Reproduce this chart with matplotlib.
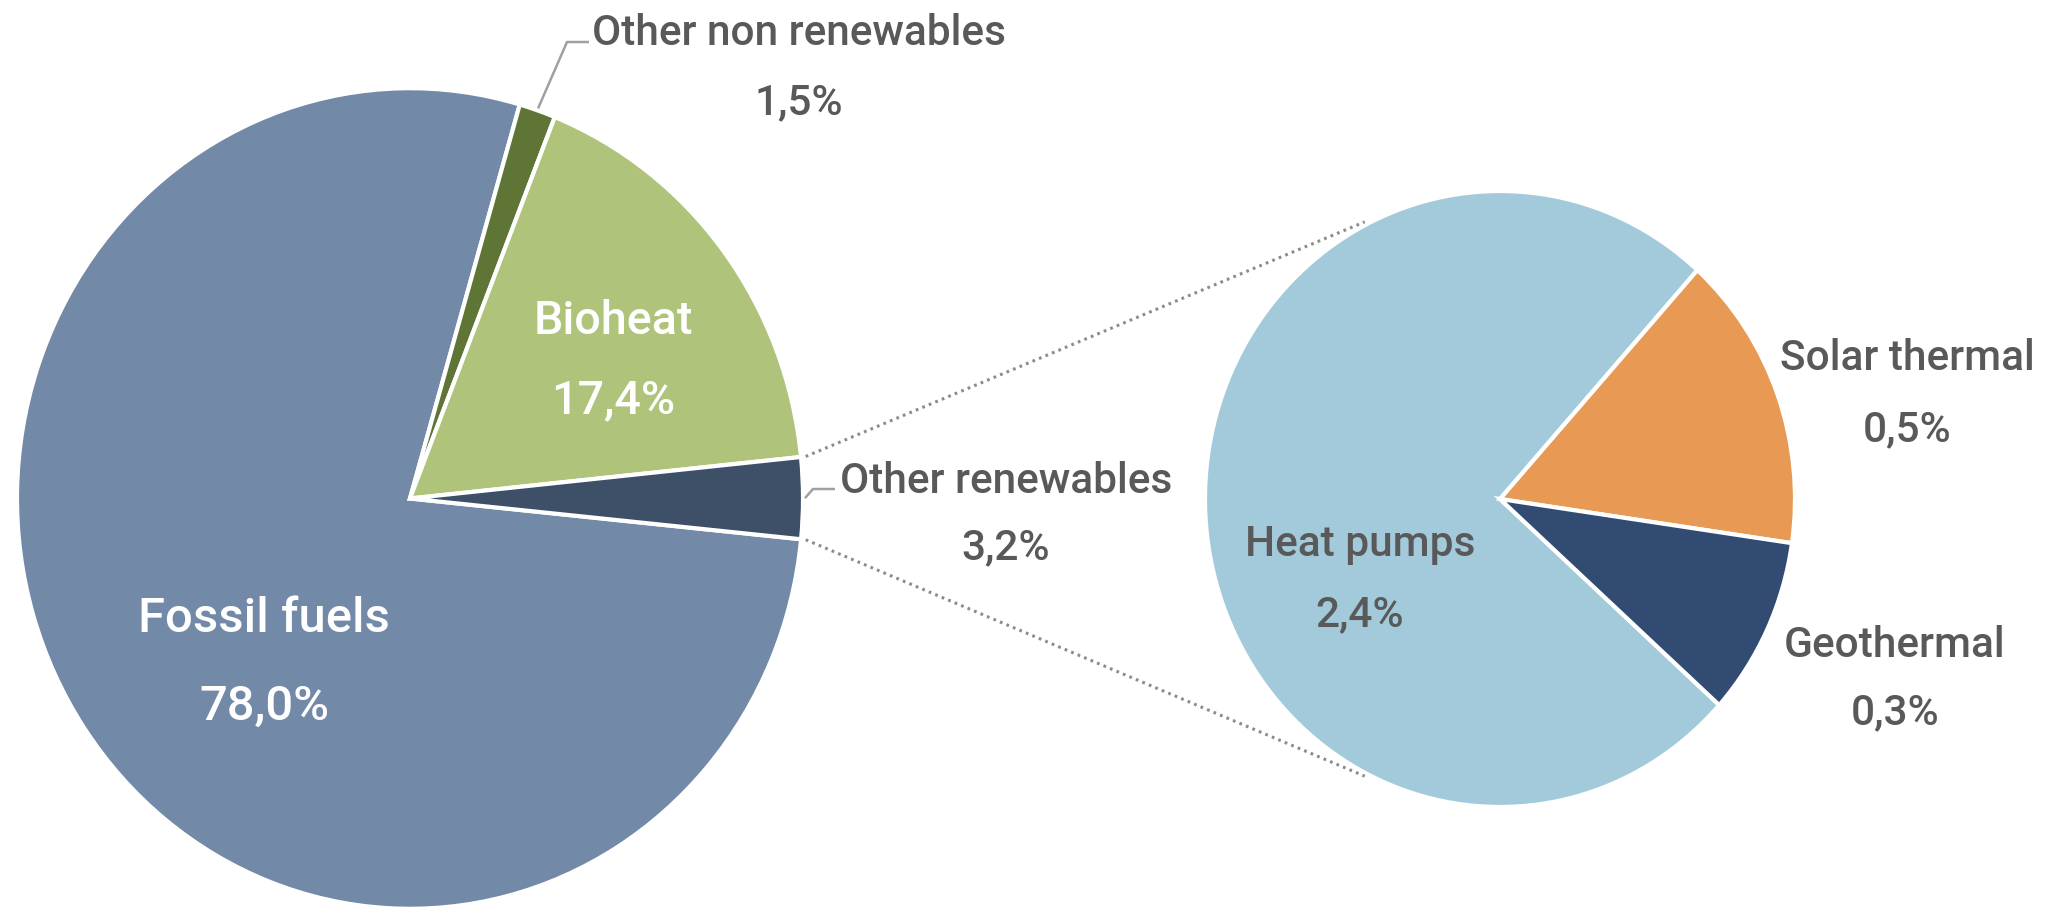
import matplotlib

matplotlib.use('Agg')
import matplotlib.pyplot as plt
import numpy as np
from matplotlib import font_manager

# heat consumption shares, %
main_labels = ['Fossil fuels', 'Other non renewables', 'Bioheat', 'Other renewables']
main_values = [78.0, 1.5, 17.4, 3.2]
main_colors = ['#7389a8', '#5e7535', '#afc47a', '#3e5068']

# breakdown of "Other renewables"
ren_labels = ['Heat pumps', 'Solar thermal', 'Geothermal']
ren_values = [2.4, 0.5, 0.3]
ren_colors = ['#a2cadb', '#e89a55', '#324b72']


def pct(v):
    return ('%.1f%%' % v).replace('.', ',')


W, H = 2059, 912
SY = 1.044  # pies are slightly taller than wide

installed = {f.name for f in font_manager.fontManager.ttflist}
if 'Liberation Sans Narrow' in installed:
    font, scale = 'Liberation Sans Narrow', 1.0
else:
    font, scale = 'Roboto', 0.86
plt.rcParams['font.family'] = [font, 'DejaVu Sans']

fig = plt.figure(figsize=(W / 100, H / 100), dpi=100)
ax = fig.add_axes([0, 0, 1, 1])


def at(x, y):
    # pixel position (y down) -> data coords
    return x, (H - y) / SY


def edge(c, r, ang, k=1.0):
    t = np.radians(ang)
    return c[0] + k * r * np.cos(t), c[1] + k * r * np.sin(t)


left_c, left_r = at(410, 499.5), 393
right_c, right_r = at(1500, 500), 295

wedge_style = dict(edgecolor='white', linewidth=3)
w_main, _ = ax.pie(main_values, colors=main_colors, center=left_c, radius=left_r,
                   startangle=-5.7, counterclock=False, wedgeprops=wedge_style, frame=True)
w_ren, _ = ax.pie(ren_values, colors=ren_colors, center=right_c, radius=right_r,
                  startangle=-42, counterclock=False, wedgeprops=wedge_style, frame=True)

ax.set_xlim(0, W)
ax.set_ylim(0, H / SY)
ax.set_aspect('auto')
ax.axis('off')

# dotted lines from the "Other renewables" slice to the breakdown pie
w_or = w_main[3]
for a_left, a_right in [(w_or.theta2, 117), (w_or.theta1, -117)]:
    x0, y0 = edge(left_c, left_r, a_left, 1.012)
    x1, y1 = edge(right_c, right_r, a_right, 1.01)
    ax.plot([x0, x1], [y0, y1], color='#8c8c8c', lw=2.2, ls=(0, (0.9, 1.4)))

# leader lines for the thin slices
leaders = [(w_main[1], [at(567, 43), at(589, 43)]),
           (w_main[3], [at(813, 490), at(835, 490)])]
for w, pts in leaders:
    mid = (w.theta1 + w.theta2) / 2
    x0, y0 = edge(left_c, left_r, mid, 1.005)
    xs = [x0] + [p[0] for p in pts]
    ys = [y0] + [p[1] for p in pts]
    ax.plot(xs, ys, color='#a0a0a0', lw=1.8, solid_capstyle='butt')

gray = '#595959'
# (label, value, x, name baseline, value baseline, colour, size)
label_pos = [
    (main_labels[0], main_values[0], 264, 632, 720, 'white', 41),
    (main_labels[1], main_values[1], 799, 45, 114, gray, 35.5),
    (main_labels[2], main_values[2], 613, 334, 413, 'white', 39),
    (main_labels[3], main_values[3], 1006, 493, 559, gray, 35.5),
    (ren_labels[0], ren_values[0], 1360, 556, 626, gray, 35.5),
    (ren_labels[1], ren_values[1], 1907, 370, 441, gray, 35.5),
    (ren_labels[2], ren_values[2], 1895, 657, 724, gray, 35.5),
]
for name, val, x, yb1, yb2, col, size in label_pos:
    ax.text(*at(x, yb1), name, color=col, fontsize=size * scale,
            fontweight='medium', ha='center', va='baseline')
    ax.text(*at(x, yb2), pct(val), color=col, fontsize=size * scale,
            fontweight='medium', ha='center', va='baseline')

fig.savefig('out.png', dpi=100, facecolor='white')
